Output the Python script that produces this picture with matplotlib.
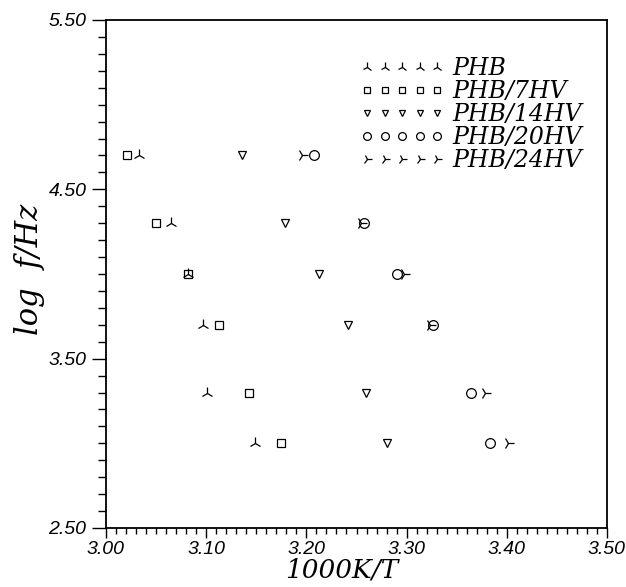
import matplotlib
matplotlib.use("Agg")
import matplotlib.pyplot as plt
from matplotlib.ticker import MultipleLocator, FixedLocator, FormatStrFormatter

# data: log f values (rows) and 1000K/T per sample
log_f = [4.70, 4.30, 4.00, 3.70, 3.30, 3.00]
x_phb = [3.033, 3.065, 3.082, 3.097, 3.101, 3.149]
x_7hv = [3.021, 3.050, 3.082, 3.113, 3.143, 3.175]
x_14hv = [3.136, 3.179, 3.213, 3.242, 3.259, 3.280]
x_20hv = [3.208, 3.257, 3.290, 3.326, 3.364, 3.383]
x_24hv = [3.196, 3.254, 3.297, 3.323, 3.378, 3.401]
labels = ["PHB", "PHB/7HV", "PHB/14HV", "PHB/20HV", "PHB/24HV"]
y_ticks = [2.50, 3.50, 4.50, 5.50]
x_ticks = [3.00, 3.10, 3.20, 3.30, 3.40, 3.50]

series = [x_phb, x_7hv, x_14hv, x_20hv, x_24hv]
markers = ["2", "s", "v", "o", "4"]
msizes = [9, 5.5, 5.5, 7, 9]

fig = plt.figure(figsize=(6.26, 5.87), dpi=100)
ax = fig.add_axes([106/626, 1-528/587, (607-106)/626, (528-20)/587])

for xs, m, ms, lab in zip(series, markers, msizes, labels):
    ax.plot(xs, log_f, linestyle="none", marker=m, markersize=ms,
            markerfacecolor="none", markeredgecolor="black",
            markeredgewidth=0.9, color="black", label=lab)

ax.set_xlim(3.0, 3.5)
ax.set_ylim(2.5, 5.5)
ax.xaxis.set_major_locator(FixedLocator(x_ticks))
ax.xaxis.set_minor_locator(MultipleLocator(0.01))
ax.yaxis.set_major_locator(FixedLocator(y_ticks))
ax.yaxis.set_minor_locator(MultipleLocator(0.1))
ax.xaxis.set_major_formatter(FormatStrFormatter("%.2f"))
ax.yaxis.set_major_formatter(FormatStrFormatter("%.2f"))
ax.tick_params(which="both", direction="out", top=False, right=False,
               width=1.0, color="black")
ax.tick_params(axis="y", which="major", length=10, pad=4)
ax.tick_params(axis="y", which="minor", length=6)
ax.tick_params(axis="x", which="major", length=7, pad=2)
ax.tick_params(axis="x", which="minor", length=4)
for lbl in ax.get_xticklabels() + ax.get_yticklabels():
    lbl.set_fontfamily("Liberation Sans")
    lbl.set_fontstyle("italic")
    lbl.set_fontsize(14)
for sp in ax.spines.values():
    sp.set_linewidth(1.3)

ax.set_xlabel("1000K/T", fontfamily="DejaVu Serif", fontstyle="italic",
              fontsize=19, labelpad=0)
ax.set_ylabel("log  f/Hz", fontfamily="DejaVu Serif", fontstyle="italic",
              fontsize=22)
ax.xaxis.set_label_coords(0.47, -0.058)
ax.yaxis.set_label_coords(-0.122, 0.51)

leg = ax.legend(loc="upper left", bbox_to_anchor=(360/626, 1-57/587),
                bbox_transform=fig.transFigure, frameon=False, numpoints=5,
                markerscale=0.8, handlelength=3.57, handletextpad=0.34,
                labelspacing=0.0, borderpad=0, borderaxespad=0,
                prop={"family": "DejaVu Serif", "style": "italic", "size": 17})

fig.savefig("out.png", dpi=100)
